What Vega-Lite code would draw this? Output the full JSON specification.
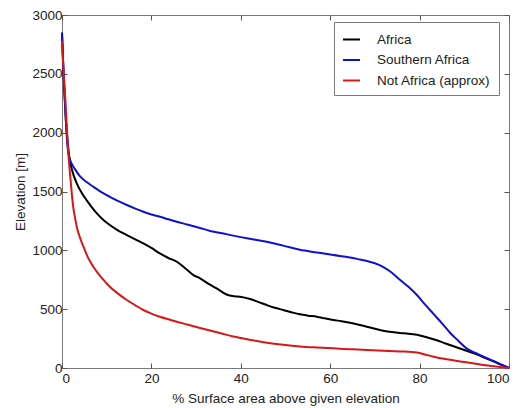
{
  "$schema": "https://vega.github.io/schema/vega-lite/v6.json",
  "width": 447,
  "height": 353,
  "autosize": {"type": "none"},
  "padding": {"left": 62, "top": 15, "right": 12, "bottom": 40},
  "background": "white",
  "config": {
    "font": "Liberation Sans",
    "view": {"stroke": "#7a7a7a", "strokeWidth": 1},
    "axis": {
      "grid": false,
      "domain": false,
      "tickColor": "#555555",
      "tickWidth": 1,
      "tickSize": -5,
      "labelFontSize": 13.5,
      "labelColor": "#222222",
      "titleFontSize": 13.5,
      "titleFontWeight": "normal",
      "titleColor": "#222222",
      "format": "d"
    }
  },
  "data": {
    "values": [
      {"s": "Africa", "x": 0, "y": 2850},
      {"s": "Africa", "x": 0.4, "y": 2450},
      {"s": "Africa", "x": 0.8, "y": 2150},
      {"s": "Africa", "x": 1.2, "y": 1950},
      {"s": "Africa", "x": 1.6, "y": 1800},
      {"s": "Africa", "x": 2.2, "y": 1690},
      {"s": "Africa", "x": 3.3, "y": 1570},
      {"s": "Africa", "x": 4.4, "y": 1490},
      {"s": "Africa", "x": 5.5, "y": 1427},
      {"s": "Africa", "x": 6.6, "y": 1370},
      {"s": "Africa", "x": 7.8, "y": 1314},
      {"s": "Africa", "x": 9.2, "y": 1260},
      {"s": "Africa", "x": 10.7, "y": 1215},
      {"s": "Africa", "x": 12.5, "y": 1170},
      {"s": "Africa", "x": 14.5, "y": 1130},
      {"s": "Africa", "x": 16.4, "y": 1093},
      {"s": "Africa", "x": 18.2, "y": 1059},
      {"s": "Africa", "x": 20, "y": 1020},
      {"s": "Africa", "x": 21.9, "y": 974},
      {"s": "Africa", "x": 23.8, "y": 935},
      {"s": "Africa", "x": 25.7, "y": 903},
      {"s": "Africa", "x": 27.5, "y": 850},
      {"s": "Africa", "x": 29.4, "y": 790},
      {"s": "Africa", "x": 30.9, "y": 762},
      {"s": "Africa", "x": 32.8, "y": 715},
      {"s": "Africa", "x": 34.6, "y": 677},
      {"s": "Africa", "x": 36.8, "y": 625},
      {"s": "Africa", "x": 38.5, "y": 610},
      {"s": "Africa", "x": 39.8, "y": 606},
      {"s": "Africa", "x": 42.1, "y": 586},
      {"s": "Africa", "x": 44, "y": 560},
      {"s": "Africa", "x": 45.8, "y": 535},
      {"s": "Africa", "x": 47.6, "y": 512},
      {"s": "Africa", "x": 49.5, "y": 493},
      {"s": "Africa", "x": 51.3, "y": 474},
      {"s": "Africa", "x": 53.2, "y": 456},
      {"s": "Africa", "x": 55, "y": 445},
      {"s": "Africa", "x": 57, "y": 436},
      {"s": "Africa", "x": 58.8, "y": 422},
      {"s": "Africa", "x": 60.7, "y": 408},
      {"s": "Africa", "x": 62.5, "y": 398},
      {"s": "Africa", "x": 64.4, "y": 385},
      {"s": "Africa", "x": 66.7, "y": 365},
      {"s": "Africa", "x": 68.2, "y": 351},
      {"s": "Africa", "x": 70, "y": 334},
      {"s": "Africa", "x": 71.9, "y": 317},
      {"s": "Africa", "x": 73.8, "y": 305},
      {"s": "Africa", "x": 75.6, "y": 297},
      {"s": "Africa", "x": 77.5, "y": 292},
      {"s": "Africa", "x": 79.4, "y": 282},
      {"s": "Africa", "x": 81.2, "y": 265},
      {"s": "Africa", "x": 83.1, "y": 244},
      {"s": "Africa", "x": 85, "y": 220},
      {"s": "Africa", "x": 86.8, "y": 195},
      {"s": "Africa", "x": 88.7, "y": 170},
      {"s": "Africa", "x": 90.5, "y": 147},
      {"s": "Africa", "x": 92.5, "y": 120},
      {"s": "Africa", "x": 95, "y": 80},
      {"s": "Africa", "x": 97.5, "y": 40},
      {"s": "Africa", "x": 100, "y": 0},

      {"s": "Southern Africa", "x": 0, "y": 2850},
      {"s": "Southern Africa", "x": 0.4, "y": 2450},
      {"s": "Southern Africa", "x": 0.8, "y": 2150},
      {"s": "Southern Africa", "x": 1.1, "y": 1950},
      {"s": "Southern Africa", "x": 1.4, "y": 1830},
      {"s": "Southern Africa", "x": 2, "y": 1750},
      {"s": "Southern Africa", "x": 2.9, "y": 1690},
      {"s": "Southern Africa", "x": 4, "y": 1630},
      {"s": "Southern Africa", "x": 5.5, "y": 1580},
      {"s": "Southern Africa", "x": 7, "y": 1540},
      {"s": "Southern Africa", "x": 8.8, "y": 1495},
      {"s": "Southern Africa", "x": 10.7, "y": 1455},
      {"s": "Southern Africa", "x": 12.6, "y": 1418},
      {"s": "Southern Africa", "x": 14.5, "y": 1385},
      {"s": "Southern Africa", "x": 16.4, "y": 1355},
      {"s": "Southern Africa", "x": 18.2, "y": 1328},
      {"s": "Southern Africa", "x": 20, "y": 1305},
      {"s": "Southern Africa", "x": 21.9, "y": 1286},
      {"s": "Southern Africa", "x": 23.8, "y": 1264},
      {"s": "Southern Africa", "x": 25.7, "y": 1243},
      {"s": "Southern Africa", "x": 28, "y": 1220},
      {"s": "Southern Africa", "x": 30.9, "y": 1190},
      {"s": "Southern Africa", "x": 33.1, "y": 1165},
      {"s": "Southern Africa", "x": 35.5, "y": 1148},
      {"s": "Southern Africa", "x": 38.3, "y": 1125},
      {"s": "Southern Africa", "x": 42, "y": 1098},
      {"s": "Southern Africa", "x": 45.8, "y": 1073},
      {"s": "Southern Africa", "x": 49.5, "y": 1040},
      {"s": "Southern Africa", "x": 53.2, "y": 1005},
      {"s": "Southern Africa", "x": 57, "y": 982},
      {"s": "Southern Africa", "x": 60.7, "y": 960},
      {"s": "Southern Africa", "x": 64.4, "y": 940},
      {"s": "Southern Africa", "x": 66.7, "y": 922},
      {"s": "Southern Africa", "x": 68.2, "y": 910},
      {"s": "Southern Africa", "x": 70, "y": 890},
      {"s": "Southern Africa", "x": 71.9, "y": 858},
      {"s": "Southern Africa", "x": 73.8, "y": 810},
      {"s": "Southern Africa", "x": 75.6, "y": 750},
      {"s": "Southern Africa", "x": 77.5, "y": 690},
      {"s": "Southern Africa", "x": 79.4, "y": 620},
      {"s": "Southern Africa", "x": 81.2, "y": 540},
      {"s": "Southern Africa", "x": 83.1, "y": 460},
      {"s": "Southern Africa", "x": 85, "y": 380},
      {"s": "Southern Africa", "x": 86.8, "y": 300},
      {"s": "Southern Africa", "x": 88.7, "y": 230},
      {"s": "Southern Africa", "x": 90.5, "y": 167},
      {"s": "Southern Africa", "x": 92.4, "y": 130},
      {"s": "Southern Africa", "x": 94.3, "y": 96},
      {"s": "Southern Africa", "x": 96.5, "y": 60},
      {"s": "Southern Africa", "x": 98.5, "y": 25},
      {"s": "Southern Africa", "x": 100, "y": 0},

      {"s": "Not Africa (approx)", "x": 0, "y": 2780},
      {"s": "Not Africa (approx)", "x": 0.3, "y": 2550},
      {"s": "Not Africa (approx)", "x": 0.67, "y": 2334},
      {"s": "Not Africa (approx)", "x": 1, "y": 2100},
      {"s": "Not Africa (approx)", "x": 1.27, "y": 1909},
      {"s": "Not Africa (approx)", "x": 1.5, "y": 1780},
      {"s": "Not Africa (approx)", "x": 1.8, "y": 1650},
      {"s": "Not Africa (approx)", "x": 2.2, "y": 1480},
      {"s": "Not Africa (approx)", "x": 2.5, "y": 1371},
      {"s": "Not Africa (approx)", "x": 2.9, "y": 1280},
      {"s": "Not Africa (approx)", "x": 3.3, "y": 1200},
      {"s": "Not Africa (approx)", "x": 4, "y": 1110},
      {"s": "Not Africa (approx)", "x": 4.8, "y": 1031},
      {"s": "Not Africa (approx)", "x": 5.8, "y": 940},
      {"s": "Not Africa (approx)", "x": 7, "y": 861},
      {"s": "Not Africa (approx)", "x": 8.8, "y": 770},
      {"s": "Not Africa (approx)", "x": 10.7, "y": 691},
      {"s": "Not Africa (approx)", "x": 12.6, "y": 630},
      {"s": "Not Africa (approx)", "x": 14.5, "y": 578},
      {"s": "Not Africa (approx)", "x": 16.4, "y": 533},
      {"s": "Not Africa (approx)", "x": 18.2, "y": 493},
      {"s": "Not Africa (approx)", "x": 20, "y": 462},
      {"s": "Not Africa (approx)", "x": 21.9, "y": 436},
      {"s": "Not Africa (approx)", "x": 23.8, "y": 414},
      {"s": "Not Africa (approx)", "x": 25.7, "y": 393},
      {"s": "Not Africa (approx)", "x": 28, "y": 370},
      {"s": "Not Africa (approx)", "x": 30.9, "y": 340},
      {"s": "Not Africa (approx)", "x": 33.1, "y": 318},
      {"s": "Not Africa (approx)", "x": 35.5, "y": 295},
      {"s": "Not Africa (approx)", "x": 38.3, "y": 268},
      {"s": "Not Africa (approx)", "x": 42, "y": 240},
      {"s": "Not Africa (approx)", "x": 45.8, "y": 215},
      {"s": "Not Africa (approx)", "x": 49.5, "y": 197},
      {"s": "Not Africa (approx)", "x": 53.2, "y": 183},
      {"s": "Not Africa (approx)", "x": 57, "y": 174},
      {"s": "Not Africa (approx)", "x": 60.7, "y": 167},
      {"s": "Not Africa (approx)", "x": 64.4, "y": 160},
      {"s": "Not Africa (approx)", "x": 68.2, "y": 153},
      {"s": "Not Africa (approx)", "x": 71.9, "y": 147},
      {"s": "Not Africa (approx)", "x": 75.6, "y": 141},
      {"s": "Not Africa (approx)", "x": 79.4, "y": 132},
      {"s": "Not Africa (approx)", "x": 81.2, "y": 115},
      {"s": "Not Africa (approx)", "x": 83.1, "y": 96},
      {"s": "Not Africa (approx)", "x": 86.8, "y": 70},
      {"s": "Not Africa (approx)", "x": 90.5, "y": 48},
      {"s": "Not Africa (approx)", "x": 94.3, "y": 25},
      {"s": "Not Africa (approx)", "x": 97.5, "y": 10},
      {"s": "Not Africa (approx)", "x": 100, "y": 0}
    ]
  },
  "layer": [
    {
      "mark": {"type": "line", "strokeWidth": 2, "interpolate": "monotone"},
      "encoding": {
        "x": {
          "field": "x", "type": "quantitative",
          "scale": {"domain": [0, 100], "nice": false, "zero": false},
          "axis": {"values": [0, 20, 40, 60, 80, 100], "format": "d", "title": "% Surface area above given elevation", "titleColor": "#222222", "labelPadding": 8, "titlePadding": 7}
        },
        "y": {
          "field": "y", "type": "quantitative",
          "scale": {"domain": [0, 3000], "nice": false},
          "axis": {"values": [0, 500, 1000, 1500, 2000, 2500, 3000], "format": "d", "title": "Elevation [m]", "titleColor": "#222222", "labelPadding": 5, "titlePadding": 4}
        },
        "color": {
          "field": "s", "type": "nominal",
          "scale": {"domain": ["Africa", "Southern Africa", "Not Africa (approx)"], "range": ["#000000", "#1010d0", "#d81818"]},
          "legend": {
            "orient": "none", "legendX": 272, "legendY": 7, "title": null,
            "strokeColor": "#7a7a7a", "fillColor": "white", "padding": 8,
            "symbolType": "stroke", "symbolSize": 289, "symbolStrokeWidth": 2,
            "labelOffset": 16, "labelFontSize": 13.5, "labelColor": "#222222", "rowPadding": 4.5
          }
        }
      }
    },
    {
      "mark": {"type": "line", "opacity": 0},
      "encoding": {
        "x": {"field": "x", "type": "quantitative", "scale": {"domain": [0, 100], "nice": false, "zero": false},
          "axis": {"orient": "top", "values": [0, 20, 40, 60, 80, 100], "labels": false, "title": null}},
        "y": {"field": "y", "type": "quantitative", "scale": {"domain": [0, 3000], "nice": false},
          "axis": {"orient": "right", "values": [0, 500, 1000, 1500, 2000, 2500, 3000], "labels": false, "title": null}},
        "detail": {"field": "s", "type": "nominal"}
      }
    }
  ],
  "resolve": {"axis": {"x": "independent", "y": "independent"}}
}
